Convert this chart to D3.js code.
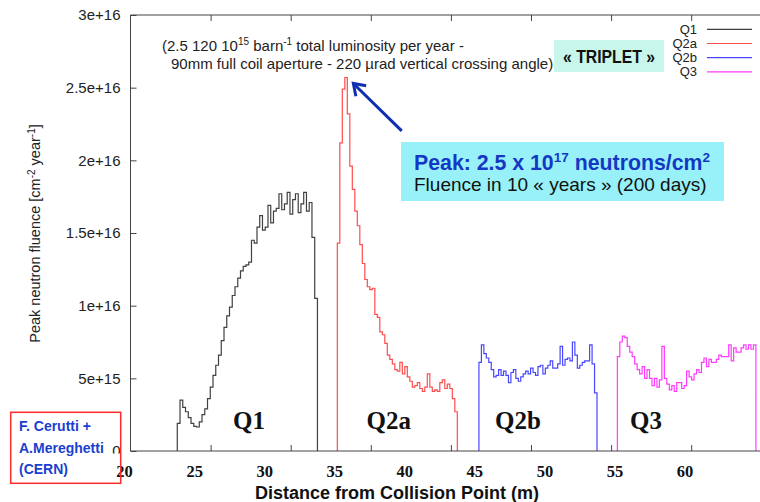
<!DOCTYPE html>
<html>
<head>
<meta charset="utf-8">
<script src="https://cdn.jsdelivr.net/npm/d3@7"></script>
<style>
body { margin: 0; background: #fff; }
svg { display: block; }
</style>
</head>
<body>
<script>
var w = 760;
var h = 502;

// magnets (legend order) and gnuplot line colours
var seriesNames = ["Q1", "Q2a", "Q2b", "Q3"];
var seriesColors = ["#404040", "#ff4d4d", "#4848ff", "#ff3cff"];

// each magnet: [start, end] along the beam line (m) + binned peak fluence (1e16 cm-2 year-1)
var q1Range = [22.92, 31.67];
var q1Values = [0.19, 0.35, 0.30, 0.27, 0.23, 0.19, 0.17, 0.165, 0.20, 0.25, 0.29, 0.36, 0.44, 0.52, 0.59, 0.66, 0.76,
	0.85, 0.93, 0.99, 1.07, 1.13, 1.19, 1.24, 1.27, 1.28, 1.30, 1.45, 1.43, 1.54, 1.62, 1.52, 1.54, 1.69, 1.57, 1.65,
	1.67, 1.77, 1.66, 1.70, 1.78, 1.63, 1.73, 1.77, 1.64, 1.70, 1.78, 1.65, 1.71, 1.47, 1.05];

var q2aRange = [32.91, 40.40];
var q2aValues = [1.43, 2.12, 2.49, 2.57, 2.32, 1.96, 1.80, 1.65, 1.55, 1.42, 1.29, 1.18, 1.13, 1.11, 1.12, 0.94, 0.92,
	0.82, 0.80, 0.74, 0.66, 0.63, 0.60, 0.56, 0.55, 0.61, 0.53, 0.58, 0.51, 0.48, 0.44, 0.45, 0.47, 0.43, 0.41, 0.44,
	0.53, 0.44, 0.41, 0.42, 0.41, 0.47, 0.49, 0.43, 0.46, 0.43, 0.36, 0.27];

var q2bRange = [41.75, 49.12];
var q2bValues = [0.61, 0.73, 0.67, 0.64, 0.61, 0.56, 0.51, 0.52, 0.56, 0.52, 0.55, 0.52, 0.47, 0.54, 0.56, 0.50, 0.48,
	0.51, 0.53, 0.55, 0.53, 0.57, 0.54, 0.52, 0.58, 0.59, 0.53, 0.57, 0.59, 0.62, 0.57, 0.57, 0.60, 0.72, 0.59, 0.63,
	0.64, 0.62, 0.75, 0.66, 0.57, 0.59, 0.61, 0.62, 0.62, 0.73, 0.60, 0.40];

var q3Range = [50.39, 59.04];
var q3Values = [0.65, 0.75, 0.79, 0.78, 0.72, 0.68, 0.65, 0.60, 0.56, 0.53, 0.58, 0.50, 0.56, 0.50, 0.45, 0.50, 0.44,
	0.49, 0.72, 0.50, 0.46, 0.42, 0.45, 0.41, 0.47, 0.47, 0.43, 0.45, 0.55, 0.51, 0.49, 0.53, 0.56, 0.54, 0.61, 0.64,
	0.58, 0.63, 0.61, 0.61, 0.63, 0.66, 0.65, 0.65, 0.65, 0.73, 0.62, 0.71, 0.68, 0.68, 0.71, 0.73, 0.70, 0.73, 0.70,
	0.73];

var ranges = [q1Range, q2aRange, q2bRange, q3Range];
var values = [q1Values, q2aValues, q2bValues, q3Values];

// axes
var yTicks = [0, 0.5, 1, 1.5, 2, 2.5, 3];
var yTickLabels = ["0", "5e+15", "1e+16", "1.5e+16", "2e+16", "2.5e+16", "3e+16"];
var xTicks = [25, 30, 35, 40, 45, 50, 55, 60];
// distance labels the slide author typed under the plot (m)
var xLabelValues = [20, 25, 30, 35, 40, 45, 50, 55, 60];

var sans = "'Liberation Sans', Arial, sans-serif";
var serif = "'Liberation Serif', 'DejaVu Serif', serif";

var svg = d3.select("body")
	.append("svg")
	.attr("width", w)
	.attr("height", h)
	.attr("font-family", sans);

var xScale = d3.scaleLinear()
	.domain([20, 60])
	.range([130.5, 771.3]);

var yScale = d3.scaleLinear()
	.domain([0, 3])
	.range([451, 15]);

// the typed labels sit on their own, slightly shifted, scale
var labelScale = d3.scaleLinear()
	.domain([20, 60])
	.range([124.6, 685]);

var plotRight = 790;

//clip for the curves
svg.append("clipPath")
	.attr("id", "plotClip")
	.append("rect")
	.attr("x", 130.5)
	.attr("y", 15)
	.attr("width", plotRight - 130.5)
	.attr("height", 436);

//Histogram lines
var line = d3.line()
	.x(function(d) { return xScale(d[0]); })
	.y(function(d) { return yScale(d[1]); })
	.curve(d3.curveStepAfter);

seriesNames.forEach(function(name, k) {
	var r = ranges[k], v = values[k];
	var step = (r[1] - r[0]) / v.length;
	var pts = [[r[0], 0]];
	v.forEach(function(val, i) { pts.push([r[0] + i * step, val]); });
	pts.push([r[1], v[v.length - 1]]);
	pts.push([r[1], 0]);
	svg.append("path")
		.datum(pts)
		.attr("clip-path", "url(#plotClip)")
		.attr("d", line)
		.attr("fill", "none")
		.attr("stroke", seriesColors[k])
		.attr("stroke-width", 1.2);
});

//Axes, gnuplot style ticks pointing inward
svg.append("g")
	.attr("class", "axis")
	.attr("transform", "translate(130.5,0)")
	.call(d3.axisLeft(yScale)
		.tickValues(yTicks)
		.tickSizeInner(-6)
		.tickSizeOuter(0)
		.tickPadding(10)
		.tickFormat(function(d, i) { return yTickLabels[i]; }));

svg.append("g")
	.attr("class", "axis")
	.attr("transform", "translate(0,451)")
	.call(d3.axisBottom(xScale)
		.tickValues(xTicks)
		.tickSizeInner(-6)
		.tickSizeOuter(0)
		.tickFormat(""));

svg.append("g")
	.attr("class", "axis")
	.attr("transform", "translate(0,15)")
	.call(d3.axisTop(xScale)
		.tickValues(xTicks)
		.tickSizeInner(-6)
		.tickSizeOuter(0)
		.tickFormat(""));

svg.selectAll(".axis .domain").remove();
svg.selectAll(".axis line").attr("stroke", "#444");
svg.selectAll(".axis text")
	.attr("font-family", sans)
	.attr("font-size", 15)
	.attr("fill", "#222");

//frame
svg.append("path")
	.attr("d", "M" + plotRight + ",15H130.5V451H" + plotRight)
	.attr("fill", "none")
	.attr("stroke", "#444")
	.attr("stroke-width", 1);

//y title
var yTitle = svg.append("text")
	.attr("transform", "translate(40,233.5) rotate(-90)")
	.attr("text-anchor", "middle")
	.attr("font-size", 14.5)
	.attr("fill", "#222");
yTitle.append("tspan").text("Peak neutron fluence [cm");
yTitle.append("tspan").attr("dy", -5).attr("font-size", 10).text("-2");
yTitle.append("tspan").attr("dy", 5).text(" year");
yTitle.append("tspan").attr("dy", -5).attr("font-size", 10).text("-1");
yTitle.append("tspan").attr("dy", 5).text("]");

//Legend
seriesNames.forEach(function(name, k) {
	var ly = 29.3 + k * 14.2;
	svg.append("text")
		.attr("x", 697)
		.attr("y", ly + 4.5)
		.attr("text-anchor", "end")
		.attr("font-size", 13)
		.attr("fill", "#222")
		.text(name);
	svg.append("line")
		.attr("x1", 707)
		.attr("x2", 752)
		.attr("y1", ly)
		.attr("y2", ly)
		.attr("stroke", seriesColors[k])
		.attr("stroke-width", 1.2);
});

//run conditions note
var note = svg.append("text")
	.attr("font-size", 15)
	.attr("fill", "#222");
note.append("tspan").attr("x", 162).attr("y", 51).text("(2.5 120 10");
note.append("tspan").attr("dy", -6).attr("font-size", 10).text("15");
note.append("tspan").attr("dy", 6).text(" barn");
note.append("tspan").attr("dy", -6).attr("font-size", 10).text("-1");
note.append("tspan").attr("dy", 6).text(" total luminosity per year -");
svg.append("text")
	.attr("x", 171)
	.attr("y", 69)
	.attr("font-size", 15)
	.attr("fill", "#222")
	.text("90mm full coil aperture - 220 \u00b5rad vertical crossing angle)");

//TRIPLET box
svg.append("rect")
	.attr("x", 554)
	.attr("y", 40)
	.attr("width", 110)
	.attr("height", 32)
	.attr("fill", "#c8f6ea");
svg.append("text")
	.attr("x", 609)
	.attr("y", 63)
	.attr("text-anchor", "middle")
	.attr("font-size", 18)
	.attr("font-weight", "bold")
	.attr("textLength", 92)
	.attr("lengthAdjust", "spacingAndGlyphs")
	.attr("fill", "#111")
	.text("\u00ab TRIPLET \u00bb");

//Peak box
svg.append("rect")
	.attr("x", 401)
	.attr("y", 142)
	.attr("width", 323)
	.attr("height", 59)
	.attr("fill", "#98f1f8");
var peak = svg.append("text")
	.attr("x", 414)
	.attr("y", 170)
	.attr("font-size", 21.3)
	.attr("font-weight", "bold")
	.attr("fill", "#1538c4");
peak.append("tspan").text("Peak: 2.5 x 10");
peak.append("tspan").attr("dy", -8).attr("font-size", 13.5).text("17");
peak.append("tspan").attr("dy", 8).text(" neutrons/cm");
peak.append("tspan").attr("dy", -8).attr("font-size", 13.5).text("2");
svg.append("text")
	.attr("x", 414)
	.attr("y", 191)
	.attr("font-size", 19)
	.attr("fill", "#111")
	.text("Fluence in 10 \u00ab years \u00bb (200 days)");

//Arrow to the Q2a peak
var tail = [36.93, 2.203], tip = [33.91, 2.529];
var tx = xScale(tip[0]), ty = yScale(tip[1]);
var ang = Math.atan2(yScale(tail[1]) - ty, xScale(tail[0]) - tx);
svg.append("line")
	.attr("x1", xScale(tail[0]))
	.attr("y1", yScale(tail[1]))
	.attr("x2", tx)
	.attr("y2", ty)
	.attr("stroke", "#0f2fb0")
	.attr("stroke-width", 3);
svg.append("path")
	.attr("d", "M" + (tx + 13 * Math.cos(ang - 0.6)) + "," + (ty + 13 * Math.sin(ang - 0.6)) +
		"L" + tx + "," + ty +
		"L" + (tx + 13 * Math.cos(ang + 0.6)) + "," + (ty + 13 * Math.sin(ang + 0.6)))
	.attr("fill", "none")
	.attr("stroke", "#0f2fb0")
	.attr("stroke-width", 3);

//magnet names on the slide
var magnetX = [233, 366.5, 495, 630];
seriesNames.forEach(function(name, k) {
	svg.append("text")
		.attr("x", magnetX[k])
		.attr("y", 429)
		.attr("font-family", serif)
		.attr("font-size", 25)
		.attr("font-weight", "bold")
		.attr("fill", "#111")
		.text(name);
});

//white band behind typed distance labels (it hides half of the "0")
svg.append("rect")
	.attr("x", 100)
	.attr("y", 453.5)
	.attr("width", 620)
	.attr("height", 27)
	.attr("fill", "#fff");

svg.selectAll(".xlab")
	.data(xLabelValues)
	.enter()
	.append("text")
	.attr("class", "xlab")
	.attr("x", function(d) { return labelScale(d); })
	.attr("y", 476.5)
	.attr("text-anchor", "middle")
	.attr("font-family", serif)
	.attr("font-size", 16.5)
	.attr("font-weight", "bold")
	.attr("fill", "#111")
	.text(function(d) { return d; });

svg.append("text")
	.attr("x", 397)
	.attr("y", 498.5)
	.attr("text-anchor", "middle")
	.attr("font-size", 18)
	.attr("font-weight", "bold")
	.attr("fill", "#111")
	.text("Distance from Collision Point (m)");

//credit box
svg.append("rect")
	.attr("x", 10.7)
	.attr("y", 412.3)
	.attr("width", 110)
	.attr("height", 71)
	.attr("fill", "none")
	.attr("stroke", "#ff2a2a")
	.attr("stroke-width", 1.5);

var credit = ["F. Cerutti +", "A.Mereghetti", "(CERN)"];
svg.selectAll(".credit")
	.data(credit)
	.enter()
	.append("text")
	.attr("class", "credit")
	.attr("x", 19)
	.attr("y", function(d, i) { return 431 + i * 21.5; })
	.attr("font-size", 14)
	.attr("font-weight", "bold")
	.attr("fill", "#1a3fd0")
	.text(function(d) { return d; });
</script>
</body>
</html>
